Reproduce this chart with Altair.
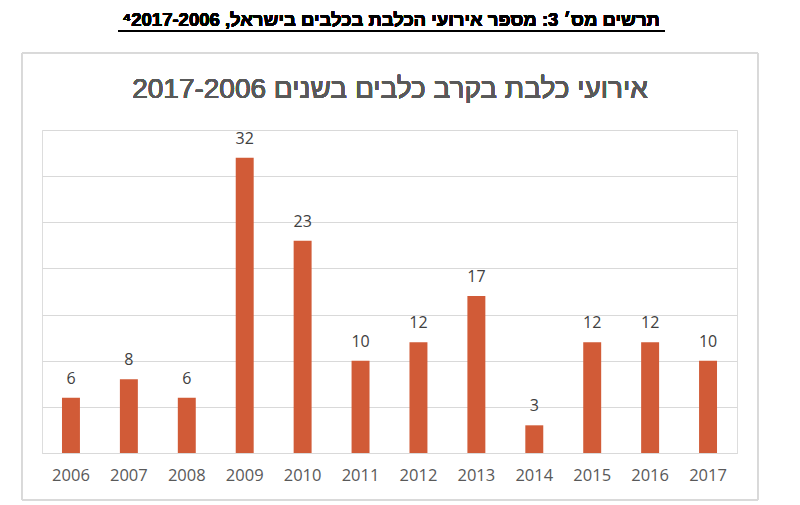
import altair as alt
import pandas as pd

# Rabies cases in dogs, Israel, by year
years = ["2006", "2007", "2008", "2009", "2010", "2011",
         "2012", "2013", "2014", "2015", "2016", "2017"]
cases = [6, 8, 6, 32, 23, 10, 12, 17, 3, 12, 12, 10]
grid_values = [0, 5, 10, 15, 20, 25, 30, 35]

RLE, PDF, RLM = "\u202B", "\u202C", "\u200F"
page_title = RLE + "תרשים מס׳ 3: מספר אירועי הכלבת בכלבים בישראל, 2017-2006" + RLM + "⁴" + PDF
chart_title = RLE + "אירועי כלבת בקרב כלבים בשנים 2017-2006" + PDF

df = pd.DataFrame({"year": years, "cases": cases})

PLOT_W, PLOT_H = 695, 323

x_enc = alt.X(
    "year:N",
    sort=years,
    title=None,
    scale=alt.Scale(paddingInner=0.69, paddingOuter=0.345),
    axis=alt.Axis(
        labelAngle=0, labelFont="Open Sans", labelFontSize=16.5,
        labelColor="#595959", labelPadding=14, ticks=False,
        domain=True, domainColor="#d9d9d9", domainWidth=1,
    ),
)
y_enc = alt.Y(
    "cases:Q",
    title=None,
    scale=alt.Scale(domain=[0, 35], nice=False),
    axis=alt.Axis(
        values=grid_values, labels=False, ticks=False, domain=False,
        grid=True, gridColor="#d9d9d9", gridWidth=1,
    ),
)

bars = alt.Chart(df).mark_bar(color="#D15B37").encode(x=x_enc, y=y_enc)

labels = alt.Chart(df).mark_text(
    dy=-11, font="Open Sans", fontSize=16, color="#404040", baseline="bottom"
).encode(x=alt.X("year:N", sort=years), y="cases:Q", text="cases:Q")

# frame around the chart body
frame = alt.Chart(df).mark_rect(
    fill=None, stroke="#d9d9d9", strokeWidth=1
).encode(
    x=alt.value(-20), x2=alt.value(716), y=alt.value(-77), y2=alt.value(370)
)

inner_title = alt.Chart(df).mark_text(
    font="Liberation Sans", fontSize=28, color="#595959", baseline="middle", align="center"
).encode(x=alt.value(348), y=alt.value(-40), text=alt.value(chart_title))

top_title = alt.Chart(df).mark_text(
    font="Liberation Sans", fontSize=18.5, fontWeight="bold", color="#000000",
    baseline="alphabetic", align="center"
).encode(x=alt.value(349), y=alt.value(-104), text=alt.value(page_title))

underline = alt.Chart(df).mark_rule(color="#000000", strokeWidth=1.2).encode(
    x=alt.value(76), x2=alt.value(623), y=alt.value(-99)
)

chart = alt.layer(frame, bars, labels, inner_title, top_title, underline).properties(
    width=PLOT_W, height=PLOT_H,
    autosize=alt.AutoSizeParams(type="none"),
    padding={"left": 42, "top": 130, "right": 63, "bottom": 52},
).configure_view(stroke=None).configure(background="white")

chart.save("out.html", embed_options={"renderer": "svg", "actions": False})
